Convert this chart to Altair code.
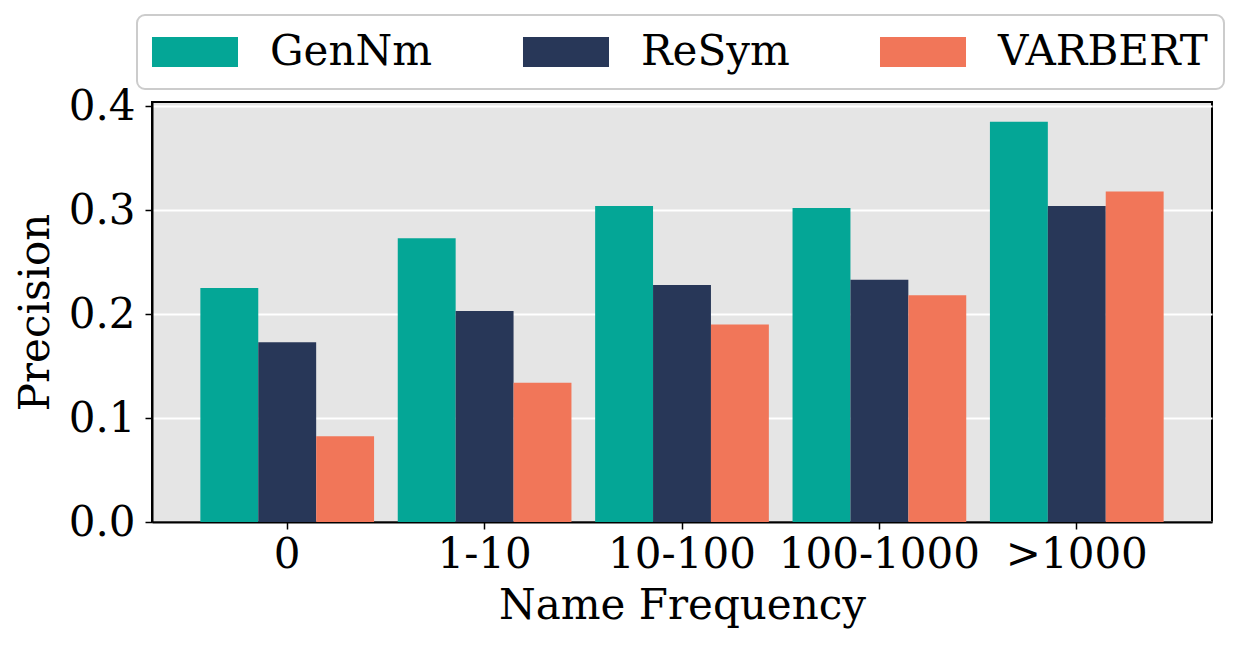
import altair as alt
import pandas as pd

categories = ["0", "1-10", "10-100", "100-1000", ">1000"]
methods = ["GenNm", "ReSym", "VARBERT"]
gennm = [0.225, 0.273, 0.304, 0.302, 0.385]
resym = [0.173, 0.203, 0.228, 0.233, 0.304]
varbert = [0.0825, 0.134, 0.190, 0.218, 0.318]
colors = ["#04A696", "#283758", "#F17659"]
y_ticks = [0.0, 0.1, 0.2, 0.3, 0.4]

rows = []
for m, vals in zip(methods, [gennm, resym, varbert]):
    for c, v in zip(categories, vals):
        rows.append({"freq": c, "method": m, "precision": v})
df = pd.DataFrame(rows)

FONT = "DejaVu Serif"
FS = 42

chart = alt.Chart(df).mark_bar().encode(
    x=alt.X("freq:N", sort=categories, title="Name Frequency",
            scale=alt.Scale(paddingInner=0.12, paddingOuter=0.245),
            axis=alt.Axis(labelAngle=0, labelFont=FONT, labelFontSize=FS, labelLimit=0,
                          titleFont=FONT, titleFontSize=FS, titleFontWeight="normal",
                          labelColor="black", titleColor="black",
                          tickColor="black", tickSize=7, tickWidth=1.5,
                          domainColor="black", domainWidth=2,
                          labelPadding=5, titlePadding=10, grid=False)),
    xOffset=alt.XOffset("method:N", sort=methods,
                        scale=alt.Scale(paddingInner=0, paddingOuter=0)),
    y=alt.Y("precision:Q", title="Precision",
            scale=alt.Scale(domain=[0, 0.404], nice=False),
            axis=alt.Axis(values=y_ticks, format=".1f", labelFont=FONT, labelFontSize=FS,
                          titleFont=FONT, titleFontSize=FS, titleFontWeight="normal",
                          labelColor="black", titleColor="black",
                          tickColor="black", tickSize=7, tickWidth=1.5,
                          domainColor="black", domainWidth=2,
                          labelPadding=10, titlePadding=11,
                          grid=True, gridColor="white", gridWidth=2)),
    color=alt.Color("method:N", sort=methods,
                    scale=alt.Scale(domain=methods, range=colors),
                    legend=alt.Legend(title=None, orient="none", legendX=-15, legendY=-87,
                                      direction="horizontal",
                                      symbolType="M-1.467,-1L4.267,-1L4.267,1L-1.467,1Z",
                                      symbolSize=900, symbolStrokeWidth=0,
                                      symbolOpacity=1, labelLimit=0,
                                      labelFont=FONT, labelFontSize=FS, labelColor="black",
                                      labelOffset=75, columnPadding=89,
                                      padding=16, cornerRadius=8,
                                      strokeColor="#cccccc", fillColor="white")),
).properties(
    width=1060, height=420,
    autosize=alt.AutoSizeParams(type="none"),
    padding={"left": 144, "top": 94, "right": 20, "bottom": 110},
).configure_view(
    fill="#e5e5e5", stroke="black", strokeWidth=2
).configure_legend(
    strokeWidth=2
)

chart.save("out.html", embed_options={"renderer": "svg", "actions": False})
